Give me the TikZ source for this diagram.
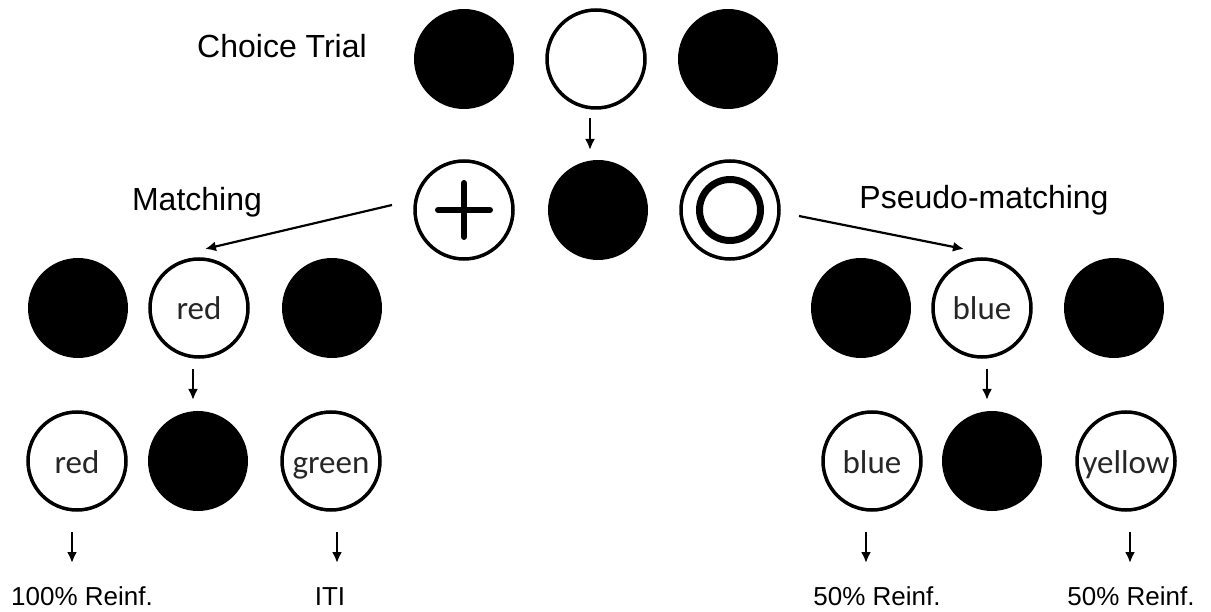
\documentclass[tikz,border=0pt]{standalone}
\usepackage{fontspec}
\setmainfont{Liberation Sans}
\newfontfamily\stimfont{Carlito}
\usetikzlibrary{arrows.meta}

\begin{document}
\begin{tikzpicture}[x=1pt,y=-1pt,
  dark/.style={circle, fill=black, minimum size=100pt, inner sep=0pt, outer sep=0pt},
  lit/.style={circle, draw=black, fill=white, line width=3.5pt, minimum size=98pt,
              inner sep=0pt, outer sep=0pt, text=black!85,
              text height=24pt, text depth=0pt,
              font=\stimfont\fontsize{33}{36}\selectfont},
  arr/.style={-{Latex[length=11pt,width=10pt]}, line width=2.2pt},
  head/.style={anchor=base, font=\fontsize{32}{38}\selectfont},
  outcome/.style={anchor=base, font=\fontsize{26}{30}\selectfont},
]
\useasboundingbox (0,0) rectangle (1211,612);

% choice trial
\node[head] (choice) at (282,58) {Choice Trial};
\node[dark] (c1) at (464,59) {};
\node[lit]  (c2) at (596,59) {};
\node[dark] (c3) at (728,59) {};

% sample stimuli
\node[lit]  (s1) at (464,210) {};
\node[dark] (s2) at (598,210) {};
\node[lit]  (s3) at (730,210) {};
\draw[line width=6pt, line cap=round]
  ([xshift=-26pt]s1.center) -- ([xshift=26pt]s1.center)
  ([yshift=-27pt]s1.center) -- ([yshift=27pt]s1.center);
\node[circle, draw, line width=7pt, minimum size=61pt, inner sep=0pt] (ring) at (s3.center) {};

\node[head] (match) at (197,211) {Matching};
\node[head] (pseudo) at (984,209) {Pseudo-matching};

% matching branch
\node[dark] (l1) at (78,308) {};
\node[lit]  (l2) at (199,308) {red};
\node[dark] (l3) at (332,308) {};
\node[lit]  (l4) at (77,461) {red};
\node[dark] (l5) at (198,461) {};
\node[lit]  (l6) at (331,461) {green};

% pseudo-matching branch
\node[dark] (r1) at (861,308) {};
\node[lit]  (r2) at (982,308) {blue};
\node[dark] (r3) at (1114,308) {};
\node[lit]  (r4) at (872,461) {blue};
\node[dark] (r5) at (992,461) {};
\node[lit]  (r6) at (1126,461) {yellow};

% outcomes
\node[outcome] (o1) at (82,605) {100\% Reinf.};
\node[outcome] (o2) at (330,605) {ITI};
\node[outcome] (o3) at (877,605) {50\% Reinf.};
\node[outcome] (o4) at (1131,605) {50\% Reinf.};

% arrow end points
\coordinate (a0s) at (590,118);  \coordinate (a0e) at (590,150);
\coordinate (aLs) at (392,205);  \coordinate (aLe) at (205,249);
\coordinate (aRs) at (799,216);  \coordinate (aRe) at (964,249);
\coordinate (b1s) at (193,369);  \coordinate (b1e) at (193,400);
\coordinate (b2s) at (987,369);  \coordinate (b2e) at (987,400);
\coordinate (d1s) at (72,532);   \coordinate (d1e) at (72,563);
\coordinate (d2s) at (337,532);  \coordinate (d2e) at (337,563);
\coordinate (d3s) at (866,532);  \coordinate (d3e) at (866,563);
\coordinate (d4s) at (1130,532); \coordinate (d4e) at (1130,563);

\draw[arr] (a0s) -- (a0e);
\draw[arr] (aLs) -- (aLe);
\draw[arr] (aRs) -- (aRe);
\draw[arr] (b1s) -- (b1e);
\draw[arr] (b2s) -- (b2e);
\draw[arr] (d1s) -- (d1e);
\draw[arr] (d2s) -- (d2e);
\draw[arr] (d3s) -- (d3e);
\draw[arr] (d4s) -- (d4e);
\end{tikzpicture}
\end{document}
